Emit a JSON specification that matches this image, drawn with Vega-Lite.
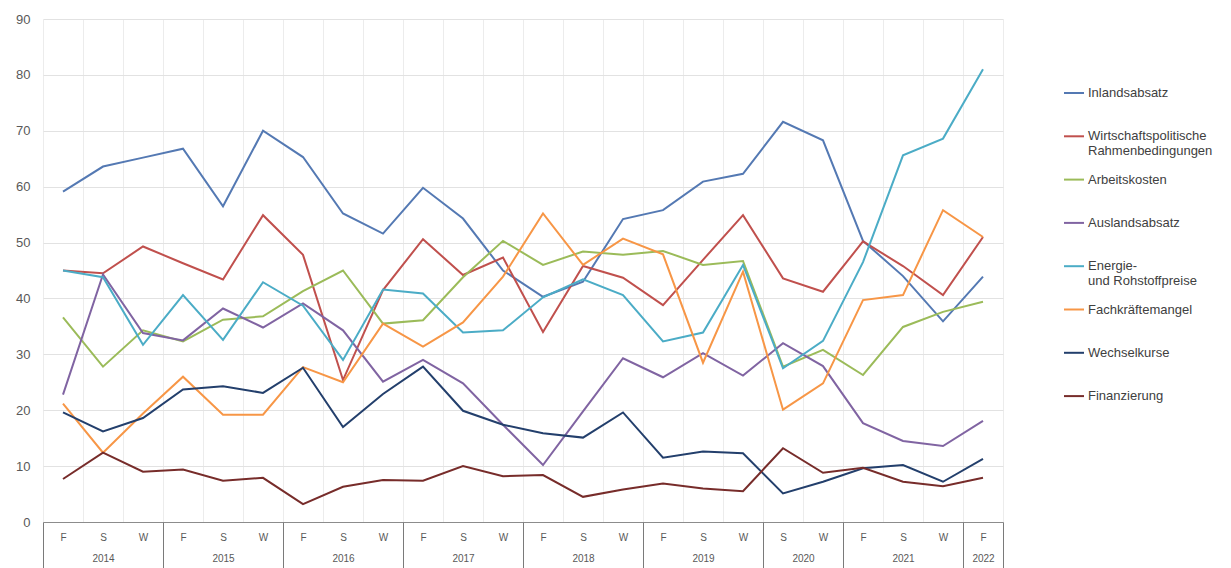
{
  "$schema": "https://vega.github.io/schema/vega-lite/v6.json",
  "width": 960,
  "height": 503,
  "autosize": {"type": "none"},
  "padding": {"left": 43, "top": 19, "right": 228, "bottom": 46},
  "background": "white",
  "config": {
    "view": {"stroke": null},
    "font": "Liberation Sans",
    "axis": {"labelFont": "Liberation Sans", "labelColor": "#595959", "title": null}
  },
  "data": {
    "values": [
      {"i": 0, "Inlandsabsatz": 59.1, "Wirtschaftspolitische Rahmenbedingungen": 45.0, "Arbeitskosten": 36.6, "Auslandsabsatz": 22.8, "Energie- und Rohstoffpreise": 45.0, "Fachkräftemangel": 21.2, "Wechselkurse": 19.6, "Finanzierung": 7.7},
      {"i": 1, "Inlandsabsatz": 63.6, "Wirtschaftspolitische Rahmenbedingungen": 44.5, "Arbeitskosten": 27.8, "Auslandsabsatz": 44.3, "Energie- und Rohstoffpreise": 43.8, "Fachkräftemangel": 12.4, "Wechselkurse": 16.2, "Finanzierung": 12.4},
      {"i": 2, "Inlandsabsatz": 65.2, "Wirtschaftspolitische Rahmenbedingungen": 49.3, "Arbeitskosten": 34.3, "Auslandsabsatz": 33.8, "Energie- und Rohstoffpreise": 31.7, "Fachkräftemangel": 19.4, "Wechselkurse": 18.6, "Finanzierung": 9.0},
      {"i": 3, "Inlandsabsatz": 66.8, "Wirtschaftspolitische Rahmenbedingungen": 46.3, "Arbeitskosten": 32.3, "Auslandsabsatz": 32.5, "Energie- und Rohstoffpreise": 40.6, "Fachkräftemangel": 26.0, "Wechselkurse": 23.7, "Finanzierung": 9.4},
      {"i": 4, "Inlandsabsatz": 56.5, "Wirtschaftspolitische Rahmenbedingungen": 43.4, "Arbeitskosten": 36.2, "Auslandsabsatz": 38.2, "Energie- und Rohstoffpreise": 32.6, "Fachkräftemangel": 19.2, "Wechselkurse": 24.3, "Finanzierung": 7.4},
      {"i": 5, "Inlandsabsatz": 70.0, "Wirtschaftspolitische Rahmenbedingungen": 54.9, "Arbeitskosten": 36.8, "Auslandsabsatz": 34.8, "Energie- und Rohstoffpreise": 42.9, "Fachkräftemangel": 19.2, "Wechselkurse": 23.1, "Finanzierung": 7.9},
      {"i": 6, "Inlandsabsatz": 65.3, "Wirtschaftspolitische Rahmenbedingungen": 47.8, "Arbeitskosten": 41.3, "Auslandsabsatz": 39.1, "Energie- und Rohstoffpreise": 38.7, "Fachkräftemangel": 27.7, "Wechselkurse": 27.6, "Finanzierung": 3.2},
      {"i": 7, "Inlandsabsatz": 55.2, "Wirtschaftspolitische Rahmenbedingungen": 25.4, "Arbeitskosten": 45.0, "Auslandsabsatz": 34.3, "Energie- und Rohstoffpreise": 29.0, "Fachkräftemangel": 25.0, "Wechselkurse": 17.0, "Finanzierung": 6.3},
      {"i": 8, "Inlandsabsatz": 51.6, "Wirtschaftspolitische Rahmenbedingungen": 41.5, "Arbeitskosten": 35.5, "Auslandsabsatz": 25.1, "Energie- und Rohstoffpreise": 41.6, "Fachkräftemangel": 35.5, "Wechselkurse": 22.9, "Finanzierung": 7.5},
      {"i": 9, "Inlandsabsatz": 59.8, "Wirtschaftspolitische Rahmenbedingungen": 50.6, "Arbeitskosten": 36.1, "Auslandsabsatz": 29.0, "Energie- und Rohstoffpreise": 40.9, "Fachkräftemangel": 31.4, "Wechselkurse": 27.8, "Finanzierung": 7.4},
      {"i": 10, "Inlandsabsatz": 54.3, "Wirtschaftspolitische Rahmenbedingungen": 44.2, "Arbeitskosten": 43.8, "Auslandsabsatz": 24.8, "Energie- und Rohstoffpreise": 33.9, "Fachkräftemangel": 35.7, "Wechselkurse": 19.9, "Finanzierung": 10.0},
      {"i": 11, "Inlandsabsatz": 45.0, "Wirtschaftspolitische Rahmenbedingungen": 47.3, "Arbeitskosten": 50.3, "Auslandsabsatz": 17.4, "Energie- und Rohstoffpreise": 34.3, "Fachkräftemangel": 43.9, "Wechselkurse": 17.4, "Finanzierung": 8.2},
      {"i": 12, "Inlandsabsatz": 40.3, "Wirtschaftspolitische Rahmenbedingungen": 34.0, "Arbeitskosten": 46.0, "Auslandsabsatz": 10.2, "Energie- und Rohstoffpreise": 40.2, "Fachkräftemangel": 55.2, "Wechselkurse": 15.9, "Finanzierung": 8.4},
      {"i": 13, "Inlandsabsatz": 43.0, "Wirtschaftspolitische Rahmenbedingungen": 45.8, "Arbeitskosten": 48.4, "Auslandsabsatz": 19.8, "Energie- und Rohstoffpreise": 43.4, "Fachkräftemangel": 46.0, "Wechselkurse": 15.1, "Finanzierung": 4.5},
      {"i": 14, "Inlandsabsatz": 54.2, "Wirtschaftspolitische Rahmenbedingungen": 43.7, "Arbeitskosten": 47.8, "Auslandsabsatz": 29.3, "Energie- und Rohstoffpreise": 40.6, "Fachkräftemangel": 50.7, "Wechselkurse": 19.6, "Finanzierung": 5.8},
      {"i": 15, "Inlandsabsatz": 55.8, "Wirtschaftspolitische Rahmenbedingungen": 38.8, "Arbeitskosten": 48.5, "Auslandsabsatz": 25.9, "Energie- und Rohstoffpreise": 32.3, "Fachkräftemangel": 47.9, "Wechselkurse": 11.5, "Finanzierung": 6.9},
      {"i": 16, "Inlandsabsatz": 60.9, "Wirtschaftspolitische Rahmenbedingungen": 46.9, "Arbeitskosten": 46.0, "Auslandsabsatz": 30.2, "Energie- und Rohstoffpreise": 33.9, "Fachkräftemangel": 28.5, "Wechselkurse": 12.6, "Finanzierung": 6.0},
      {"i": 17, "Inlandsabsatz": 62.3, "Wirtschaftspolitische Rahmenbedingungen": 54.9, "Arbeitskosten": 46.7, "Auslandsabsatz": 26.2, "Energie- und Rohstoffpreise": 46.0, "Fachkräftemangel": 44.8, "Wechselkurse": 12.3, "Finanzierung": 5.5},
      {"i": 18, "Inlandsabsatz": 71.6, "Wirtschaftspolitische Rahmenbedingungen": 43.6, "Arbeitskosten": 27.8, "Auslandsabsatz": 32.0, "Energie- und Rohstoffpreise": 27.5, "Fachkräftemangel": 20.1, "Wechselkurse": 5.1, "Finanzierung": 13.2},
      {"i": 19, "Inlandsabsatz": 68.3, "Wirtschaftspolitische Rahmenbedingungen": 41.2, "Arbeitskosten": 30.8, "Auslandsabsatz": 27.9, "Energie- und Rohstoffpreise": 32.4, "Fachkräftemangel": 24.8, "Wechselkurse": 7.2, "Finanzierung": 8.8},
      {"i": 20, "Inlandsabsatz": 50.3, "Wirtschaftspolitische Rahmenbedingungen": 50.2, "Arbeitskosten": 26.3, "Auslandsabsatz": 17.7, "Energie- und Rohstoffpreise": 46.5, "Fachkräftemangel": 39.7, "Wechselkurse": 9.6, "Finanzierung": 9.7},
      {"i": 21, "Inlandsabsatz": 44.0, "Wirtschaftspolitische Rahmenbedingungen": 45.8, "Arbeitskosten": 34.9, "Auslandsabsatz": 14.5, "Energie- und Rohstoffpreise": 65.6, "Fachkräftemangel": 40.6, "Wechselkurse": 10.2, "Finanzierung": 7.2},
      {"i": 22, "Inlandsabsatz": 35.9, "Wirtschaftspolitische Rahmenbedingungen": 40.6, "Arbeitskosten": 37.6, "Auslandsabsatz": 13.6, "Energie- und Rohstoffpreise": 68.6, "Fachkräftemangel": 55.8, "Wechselkurse": 7.2, "Finanzierung": 6.4},
      {"i": 23, "Inlandsabsatz": 43.9, "Wirtschaftspolitische Rahmenbedingungen": 51.0, "Arbeitskosten": 39.4, "Auslandsabsatz": 18.1, "Energie- und Rohstoffpreise": 81.0, "Fachkräftemangel": 51.0, "Wechselkurse": 11.3, "Finanzierung": 7.9}
    ]
  },
  "transform": [
    {"fold": ["Inlandsabsatz", "Wirtschaftspolitische Rahmenbedingungen", "Arbeitskosten", "Auslandsabsatz", "Energie- und Rohstoffpreise", "Fachkräftemangel", "Wechselkurse", "Finanzierung"], "as": ["series", "value"]}
  ],
  "layer": [
    {
      "mark": {"type": "line", "strokeWidth": 2},
      "encoding": {
        "x": {
          "field": "i", "type": "quantitative",
          "scale": {"domain": [-0.5, 23.5], "nice": false, "zero": false},
          "axis": {
            "orient": "bottom",
            "values": [0,1,2,3,4,5,6,7,8,9,10,11,12,13,14,15,16,17,18,19,20,21,22,23],
            "labelExpr": "['F','S','W','F','S','W','F','S','W','F','S','W','F','S','W','F','S','W','S','W','F','S','W','F'][datum.value]",
            "grid": false, "ticks": false, "tickSize": 0,
            "domain": true, "domainColor": "#8c8c8c", "domainWidth": 1,
            "labelPadding": 15, "labelFontSize": 10, "labelBaseline": "middle", "labelFlush": false, "labelOverlap": false
          }
        },
        "y": {
          "field": "value", "type": "quantitative",
          "scale": {"domain": [0, 90], "nice": false},
          "axis": {
            "values": [0,10,20,30,40,50,60,70,80,90],
            "grid": true, "gridColor": "#e2e2e2",
            "domain": false, "ticks": false, "tickSize": 0,
            "labelPadding": 13, "labelFontSize": 13
          }
        },
        "color": {
          "field": "series", "type": "nominal",
          "scale": {
            "domain": ["Inlandsabsatz", "Wirtschaftspolitische Rahmenbedingungen", "Arbeitskosten", "Auslandsabsatz", "Energie- und Rohstoffpreise", "Fachkräftemangel", "Wechselkurse", "Finanzierung"],
            "range": ["#5479b3", "#c0504d", "#9bbb59", "#8064a2", "#4bacc6", "#f79646", "#233f6c", "#772c2a"]
          },
          "legend": {
            "orient": "none", "legendX": 1020, "legendY": 63,
            "title": null, "padding": 0,
            "symbolType": "stroke", "symbolSize": 400, "symbolStrokeWidth": 2,
            "labelFont": "Liberation Sans", "labelFontSize": 13, "labelColor": "#404040",
            "labelOffset": 3, "labelLimit": 300,
            "rowPadding": 10.3, "gridAlign": "all",
            "labelExpr": "datum.label == 'Wirtschaftspolitische Rahmenbedingungen' ? ['Wirtschaftspolitische', 'Rahmenbedingungen'] : datum.label == 'Energie- und Rohstoffpreise' ? ['Energie-', 'und Rohstoffpreise'] : datum.label"
          }
        }
      }
    },
    {
      "mark": {"type": "point", "opacity": 0},
      "encoding": {
        "x": {
          "field": "i", "type": "quantitative",
          "scale": {"domain": [-0.5, 23.5], "nice": false, "zero": false},
          "axis": {
            "orient": "bottom",
            "values": [-0.5,0.5,1.5,2.5,3.5,4.5,5.5,6.5,7.5,8.5,9.5,10.5,11.5,12.5,13.5,14.5,15.5,16.5,17.5,18.5,19.5,20.5,21.5,22.5,23.5],
            "labels": false, "grid": true, "gridColor": "#ececec",
            "domain": false, "ticks": true, "tickSize": 46, "tickColor": "#7a7a7a", "tickWidth": 1,
            "tickOpacity": {"condition": {"test": "indexof([-0.5,2.5,5.5,8.5,11.5,14.5,17.5,19.5,22.5,23.5], datum.value) >= 0", "value": 1}, "value": 0}
          }
        }
      }
    },
    {
      "mark": {"type": "point", "opacity": 0},
      "encoding": {
        "x": {
          "field": "i", "type": "quantitative",
          "scale": {"domain": [-0.5, 23.5], "nice": false, "zero": false},
          "axis": {
            "orient": "bottom",
            "values": [1, 4, 7, 10, 13, 16, 18.5, 21, 23],
            "labelExpr": "['2014','2015','2016','2017','2018','2019','2020','2021','2022'][indexof([1,4,7,10,13,16,18.5,21,23], datum.value)]",
            "grid": false, "ticks": false, "tickSize": 0, "domain": false,
            "labelPadding": 36, "labelFontSize": 10, "labelBaseline": "middle", "labelFlush": false, "labelOverlap": false
          }
        }
      }
    }
  ],
  "resolve": {"axis": {"x": "independent"}}
}
